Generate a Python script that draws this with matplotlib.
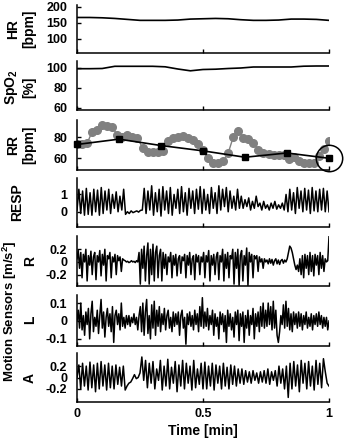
import matplotlib
matplotlib.use("Agg")
import matplotlib.pyplot as plt
import numpy as np

plt.rcParams['font.family'] = ['Liberation Sans', 'DejaVu Sans']
plt.rcParams['font.weight'] = 'bold'
plt.rcParams['mathtext.fontset'] = 'custom'
plt.rcParams['mathtext.rm'] = 'Liberation Sans:bold'
plt.rcParams['mathtext.bf'] = 'Liberation Sans:bold'

# --- data (time normalised to minutes, 0..1) ---
hr = [166, 166, 165, 163, 160, 157, 157, 157, 158, 161, 162,
      163, 162, 159, 157, 157, 158, 161, 161, 160, 157]
spo2 = [99.3, 99.3, 99.5, 101.7, 101.7, 101.7, 101.7, 101.2, 99, 97.2, 98.5,
        98.8, 99.5, 100, 101, 101, 101, 101, 101.8, 102, 102]

rr_dots = [73, 73, 74, 85, 87, 91, 90, 89, 82, 80, 82, 80, 79, 70, 66, 66, 66,
           67, 76, 79, 80, 81, 79, 77, 73, 68, 60, 56, 56, 57, 65, 80, 86, 79,
           78, 74, 68, 65, 64, 63, 63, 63, 59, 61, 57, 56, 56, 56, 62, 69, 76]
rr_avg = [73, 78, 72, 67, 61, 65, 60]

resp = [0.1, 1.3, -0.1, 1.2, -0.2, 1.35, -0.15, 1.1, -0.2, 1.3, 0.0, 1.25, -0.2,
        1.4, -0.1, 1.2, 0.1, 1.3, -0.1, 1.0, 0.2, 1.15, 0.0, 0.9, 0.1, 1.3, -0.15,
        0.0, -0.1, 0.05, -0.05, 0.0, 0.05, -0.02, 0.08, 0.1,
        1.35, -0.1, 1.2, 0.1, 1.5, -0.2, 1.1, 0.0, 1.3, -0.25, 1.45, 0.1, 1.2, -0.1,
        1.4, -0.2, 1.0, 0.2, 1.3, -0.1, 1.45, 0.0, 1.1, -0.2, 1.35, 0.2, 1.2, -0.1,
        1.3, 0.15, 1.45, -0.1,
        1.3, 0.1, 1.0, -0.1, 1.4, 0.2, 1.1, -0.1, 1.5, 0.1, 1.3, 0.3, 1.4, 0.0,
        1.2, 0.2, 0.9, 0.1, 1.3, 0.2,
        0.9, 0.2, 0.7, 0.3, 0.8, 0.1, 0.6, 0.2, 0.9, 0.3, 0.5, 0.1, 0.6, 0.2,
        0.4, 0.1, 0.5, 0.2, 0.6, 0.15, 0.4, 0.2, 0.5, 0.1,
        1.0, 0.0, 1.3, 0.1, 1.1, -0.1, 1.4, 0.2, 1.2, 0.0, 1.35, 0.1, 1.25, -0.1,
        1.4, 0.05, 1.2, 0.0, 1.3, 0.1, 1.35, 0.0, 1.2, 0.0]

acc_r = [0.05, 0.18, -0.1, 0.15, -0.25, 0.12, 0.0, 0.2, -0.3, 0.1, -0.05, 0.17,
         -0.2, 0.08, 0.15, -0.28, 0.1, 0.0, 0.18, -0.22, 0.12, -0.05, 0.2, -0.3,
         0.1, 0.05, 0.15, -0.25, 0.08, 0.0, 0.12, -0.2, 0.1, 0.02, 0.08, -0.15,
         0.05, 0.03,
         0.02, 0.0, 0.01, -0.01, 0.0, 0.02, 0.0, 0.01, -0.01, 0.02, 0.0,
         0.15, -0.35, 0.2, -0.1, 0.25, -0.3, 0.1, 0.3, -0.35, 0.2, -0.2, 0.28,
         -0.3, 0.15, 0.25, -0.25, 0.1, 0.2, -0.3, 0.15, -0.1,
         0.12, -0.2, 0.08, 0.0, 0.15, -0.25, 0.1, -0.05, 0.12, -0.22, 0.05, 0.1,
         -0.18, 0.08, 0.02, 0.12, -0.25, 0.1, -0.05, 0.15, -0.2, 0.05, 0.1, -0.28,
         0.12, 0.0, 0.1, -0.2, 0.08, 0.0,
         0.15, -0.25, 0.1, 0.0, 0.18, -0.3, 0.1, -0.05, 0.12, -0.2, 0.08, 0.15,
         -0.28, 0.1, 0.0, 0.2, -0.3, 0.12, -0.1, 0.15, -0.25, 0.1, 0.05, 0.2,
         -0.35, 0.15, -0.1, 0.2, -0.37, 0.1, 0.18, -0.3, 0.1, -0.05, 0.22, -0.37,
         0.15, 0.0, 0.12, -0.25, 0.1, 0.05, 0.1, -0.15, 0.08, 0.0, 0.05, -0.1,
         0.05, 0.0,
         0.03, -0.03, 0.05, -0.02, 0.04, -0.05, 0.02, 0.05, -0.03, 0.03, -0.04,
         0.02, 0.04, -0.02, 0.03, 0.0,
         0.05, 0.15, 0.25, 0.22, 0.15, 0.05, -0.05, -0.12, -0.05, -0.15,
         0.05, -0.2, 0.1, -0.25, 0.12, -0.1, 0.1, -0.2, 0.15, -0.15, 0.1, -0.22,
         0.12, -0.05, 0.1, -0.2, 0.15, -0.1, 0.1, -0.15, 0.05, 0.0,
         0.02, 0.4]

acc_l = [0.0, 0.06, -0.04, 0.1, -0.05, 0.03, -0.08, 0.05, -0.02, 0.07, -0.1,
         0.04, 0.11, -0.06, 0.02, -0.03, 0.06, -0.07, 0.03, 0.12, -0.04, 0.05,
         -0.09, 0.02, 0.07, -0.03, 0.04, -0.06, 0.08, -0.12, 0.03, 0.06, -0.02,
         0.04, -0.05, 0.1, -0.03, 0.02, -0.04, 0.03,
         -0.02, 0.03, -0.03, 0.02, -0.01, 0.04, -0.02, 0.02, -0.05, 0.03,
         0.08, -0.06, 0.1, -0.08, 0.05, 0.12, -0.07, 0.03, -0.1, 0.09, -0.04,
         0.11, -0.08, 0.06, -0.03, 0.08, -0.06, 0.04, -0.02, 0.07, -0.05, 0.03,
         0.06, -0.04, 0.02, -0.06, 0.05, -0.03, 0.04, -0.02, 0.05, -0.08, 0.03,
         0.06, -0.04, 0.02, -0.13, 0.04, -0.02, 0.05, -0.03, 0.03, -0.05, 0.06,
         -0.02, 0.04, -0.06, 0.08, -0.03, 0.13,
         -0.04, 0.05, -0.03, 0.07, -0.05, 0.03, -0.02, 0.06, -0.08, 0.04, -0.03,
         0.02, -0.1, 0.05, -0.02, 0.04, -0.06, 0.03, -0.12, 0.06, -0.03, 0.04,
         -0.05, 0.02, -0.09, 0.05, -0.02, 0.06, -0.11, 0.04, -0.03, 0.05, -0.12,
         0.03, -0.04, 0.06, -0.08, 0.03, -0.02, 0.07, -0.1, 0.04, -0.03, 0.05,
         -0.06, 0.08, -0.03, 0.1, -0.04, 0.06,
         -0.03, 0.1, -0.02, 0.08, -0.05, 0.11, -0.04, 0.06, -0.08, -0.12, -0.06,
         0.03, -0.02, 0.09, -0.04, 0.11, -0.03, 0.07, -0.05, 0.04, -0.06, 0.05,
         -0.02, 0.04,
         -0.04, 0.05, -0.03, 0.04, -0.05, 0.03, -0.02, 0.05, -0.04, 0.02, -0.03,
         0.04, -0.05, 0.03, -0.02, 0.04, -0.03, 0.05, -0.02, 0.03, -0.04, 0.02,
         -0.03, 0.02, -0.05, 0.0]

acc_a = [0.0, 0.22, -0.2, 0.25, -0.15, 0.2, -0.22, 0.27, -0.18, 0.22, -0.25,
         0.25, -0.2, 0.28, -0.15, 0.22, -0.22, 0.25, -0.18, 0.2, -0.2, 0.22,
         -0.12, 0.18, -0.15, 0.2, -0.22,
         -0.15, -0.1, -0.08, -0.02, 0.05, -0.02, 0.0, 0.08,
         0.36, -0.05, 0.3, -0.18, 0.25, -0.1, 0.28, -0.2, 0.15, -0.05, 0.3, -0.22,
         0.2, -0.15, 0.32, -0.2, 0.18, -0.1, 0.28, -0.25, 0.22, -0.15, 0.3, -0.2,
         0.25, -0.1, 0.2, -0.22, 0.3, -0.18, 0.15, -0.12, 0.25, -0.2,
         0.27, -0.2, 0.2, -0.15, 0.25, -0.22, 0.22, -0.1, 0.2, -0.2, 0.25, -0.15,
         0.18, -0.2, 0.22, -0.12, 0.2, -0.15, 0.15, -0.1,
         0.15, -0.12, 0.12, -0.08, 0.1, -0.1, 0.12, -0.05, 0.08, -0.1, 0.1, -0.08,
         0.12, -0.1, 0.15, -0.12, 0.1, -0.05, 0.12, -0.15, 0.2, -0.1, 0.15, -0.2,
         0.2, -0.35, 0.25, -0.2, 0.28, -0.15, 0.22, -0.25, 0.3, -0.1, 0.25, -0.2,
         0.28, -0.15, 0.2, -0.22, 0.3, -0.12, 0.25, -0.18, 0.33, 0.1, -0.1, -0.15]

fig = plt.figure(figsize=(3.44, 4.4), dpi=100)
W, H = 344.0, 440.0
left, width = 77, 252
# (top px, height px) for each panel
boxes = [(5, 48), (61, 49), (120, 50), (178, 49), (236, 50), (295, 51), (353, 49)]
axs = [fig.add_axes([left / W, 1 - (t + h) / H, width / W, h / H]) for t, h in boxes]

for ax in axs:
    ax.spines['top'].set_visible(False)
    ax.spines['right'].set_visible(False)
    for s in ('left', 'bottom'):
        ax.spines[s].set_linewidth(1.1)
    ax.set_xlim(0, 1)
    ax.set_xticks([0, 0.5, 1])
    ax.tick_params(direction='in', length=3, width=1, labelsize=9, pad=7)
    ax.tick_params(axis='x', pad=4)
    ax.patch.set_alpha(0)
for ax in axs[:-1]:
    ax.set_xticklabels([])

t = lambda v: np.linspace(0, 1, len(v))

ax = axs[0]
ax.plot(t(hr), hr, color='k', lw=1.2)
ax.set_ylim(55, 205)
ax.set_yticks([100, 150, 200])

ax = axs[1]
ax.plot(t(spo2), spo2, color='k', lw=1.2)
ax.set_ylim(58, 107)
ax.set_yticks([60, 80, 100])

ax = axs[2]
ax.plot(t(rr_dots), rr_dots, '-o', color='#808080', lw=1, ms=5.5, mec='#808080')
ax.plot(t(rr_avg), rr_avg, '-s', color='k', lw=1.2, ms=4, zorder=3, clip_on=False)
ax.plot([1], [rr_avg[-1]], 'o', ms=19, mfc='none', mec='k', mew=1.1, clip_on=False)
ax.set_ylim(49, 96)
ax.set_yticks([60, 80])

ax = axs[3]
ax.plot(t(resp), resp, color='k', lw=1.1)
ax.set_ylim(-0.88, 1.95)
ax.set_yticks([0, 1])

ax = axs[4]
ax.plot(t(acc_r), acc_r, color='k', lw=1.1)
ax.set_ylim(-0.38, 0.41)
ax.set_yticks([-0.2, 0, 0.2])
ax.set_yticklabels(['-0.2', '0', '0.2'])

ax = axs[5]
ax.plot(t(acc_l), acc_l, color='k', lw=1.1)
ax.set_ylim(-0.14, 0.145)
ax.set_yticks([-0.1, 0, 0.1])
ax.set_yticklabels(['-0.1', '0', '0.1'])

ax = axs[6]
ax.plot(t(acc_a), acc_a, color='k', lw=1.1)
ax.set_ylim(-0.43, 0.43)
ax.set_yticks([-0.2, 0, 0.2])
ax.set_yticklabels(['-0.2', '0', '0.2'])
ax.set_xticklabels(['0', '0.5', '1'])
ax.set_xlabel('Time [min]', fontsize=10, fontweight='bold', labelpad=3)

# y labels
lab = dict(rotation=90, ha='center', va='center', fontsize=10, fontweight='bold',
           multialignment='center')
fig.text(21 / W, 1 - 29 / H, 'HR\n[bpm]', **lab)
fig.text(20 / W, 1 - 87 / H, 'SpO$_\\mathbf{2}$\n[%]', **lab)
fig.text(21 / W, 1 - 145 / H, 'RR\n[bpm]', **lab)
fig.text(17 / W, 1 - 202 / H, 'RESP', **lab)
fig.text(30 / W, 1 - 261 / H, 'R', **lab)
fig.text(30 / W, 1 - 320 / H, 'L', **lab)
fig.text(30 / W, 1 - 378 / H, 'A', **lab)
fig.text(10 / W, 1 - 311 / H, 'Motion Sensors [m/s$^\\mathbf{2}$]', rotation=90,
         ha='center', va='center', fontsize=9.5, fontweight='bold')

fig.savefig('out.png', dpi=100)
